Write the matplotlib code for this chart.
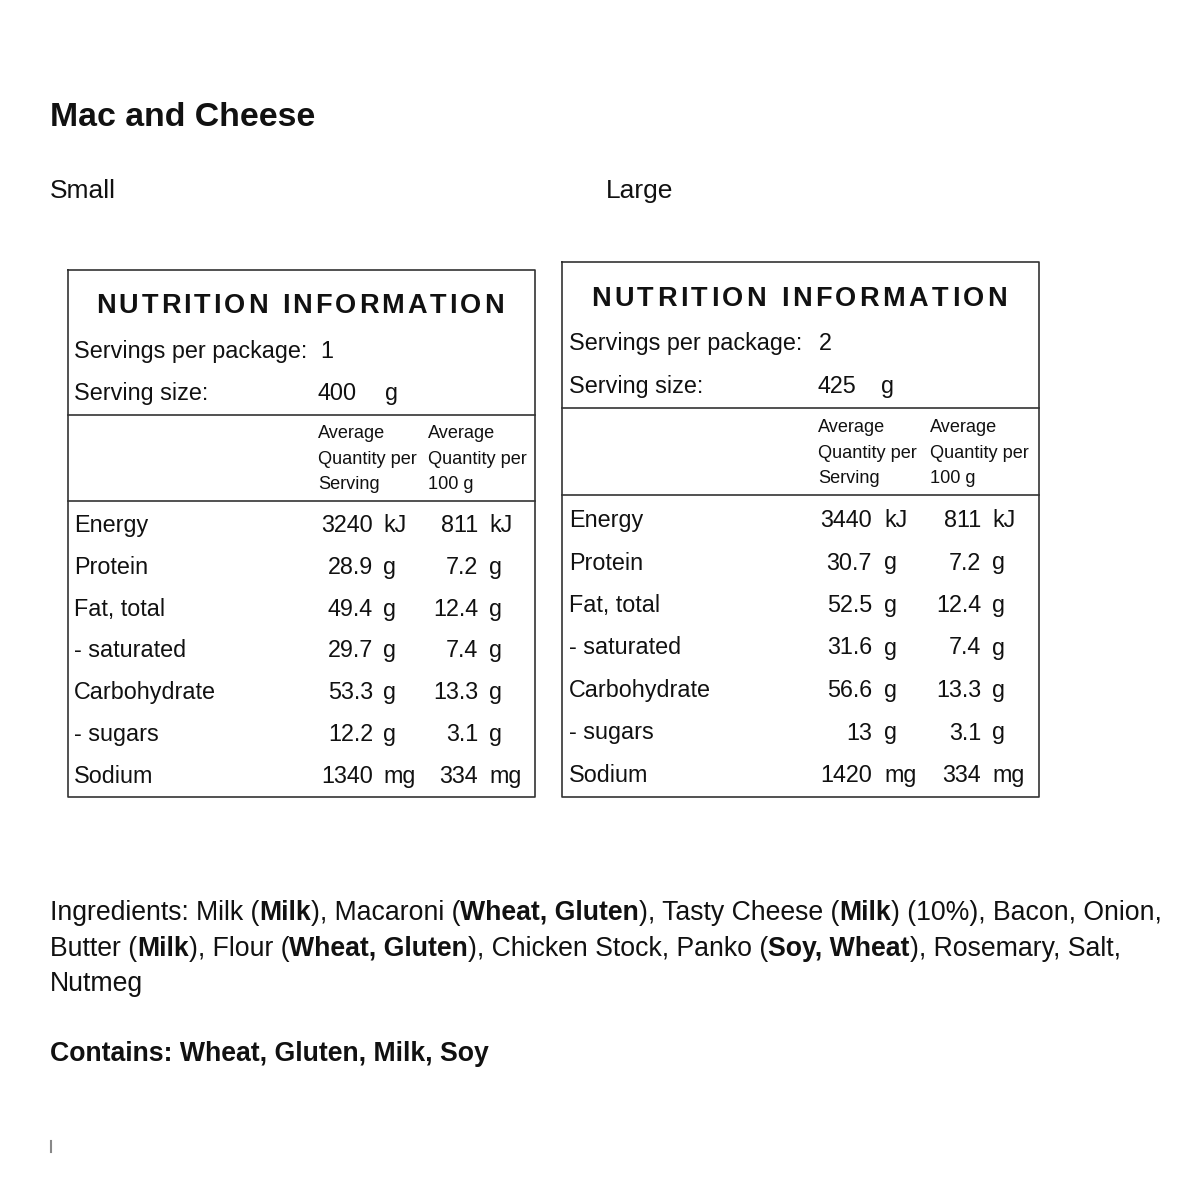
import matplotlib
matplotlib.use("Agg")
import matplotlib.pyplot as plt

plt.rcParams['font.family'] = ['Liberation Sans', 'DejaVu Sans']

# Nutrition data
nutrients = ["Energy", "Protein", "Fat, total", "- saturated", "Carbohydrate", "- sugars", "Sodium"]
units = ["kJ", "g", "g", "g", "g", "g", "mg"]
small_per_serving = [3240, 28.9, 49.4, 29.7, 53.3, 12.2, 1340]
small_per_100g = [811, 7.2, 12.4, 7.4, 13.3, 3.1, 334]
large_per_serving = [3440, 30.7, 52.5, 31.6, 56.6, 13, 1420]
large_per_100g = [811, 7.2, 12.4, 7.4, 13.3, 3.1, 334]
servings_per_package = [1, 2]
serving_size_g = [400, 425]
header_serving = ["Average", "Quantity per", "Serving"]
header_100g = ["Average", "Quantity per", "100 g"]

# (text, bold) runs for each ingredients line
ingredient_lines = [
    [("Ingredients: Milk (", False), ("Milk", True), ("), Macaroni (", False), ("Wheat, Gluten", True),
     ("), Tasty Cheese (", False), ("Milk", True), (") (10%), Bacon, Onion,", False)],
    [("Butter (", False), ("Milk", True), ("), Flour (", False), ("Wheat, Gluten", True),
     ("), Chicken Stock, Panko (", False), ("Soy, Wheat", True), ("), Rosemary, Salt,", False)],
    [("Nutmeg", False)],
]
contains_text = "Contains: Wheat, Gluten, Milk, Soy"

TXT = '#111111'
LINE = '#333333'
ROW_FS = 16.8

fig = plt.figure(figsize=(12, 12), dpi=100)
ax = fig.add_axes([0, 0, 1, 1])
ax.set_xlim(0, 1200)
ax.set_ylim(1200, 0)
ax.axis('off')
renderer = fig.canvas.get_renderer()


def width_of(s, size, bold=False):
    t = ax.text(0, 0, s, fontsize=size, fontweight='bold' if bold else 'normal')
    w = t.get_window_extent(renderer).width
    t.remove()
    return w


def advance(ch, size, bold=False):
    return width_of("H" + ch + "H", size, bold) - width_of("HH", size, bold)


def txt(x, y, s, size=ROW_FS, bold=False, ha='left'):
    ax.text(x, y, s, fontsize=size, fontweight='bold' if bold else 'normal',
            ha=ha, va='baseline', color=TXT)


def draw_runs(x, y, runs, size):
    for s, bold in runs:
        txt(x, y, s, size, bold)
        x += width_of(s, size, bold)


def tracked_title(x_left, y, s, size, target_w):
    advs = [advance(c, size, True) for c in s]
    natural = sum(advs[:-1]) + width_of(s[-1], size, True)
    extra = (target_w - natural) / (len(s) - 1)
    x = x_left
    for c, a in zip(s, advs):
        if c != ' ':
            txt(x, y, c, size, True)
        x += a + extra


def fmt(v):
    return f"{v:g}"


def draw_table(lay, spp, ss, per_serv, per_100):
    x0, y0, x1, y1 = lay['box']
    ax.plot([x0, x1, x1, x0, x0], [y0, y0, y1, y1, y0], color=LINE, lw=1.2)
    ax.plot([x0, x1], [lay['line1']] * 2, color=LINE, lw=1.2)
    ax.plot([x0, x1], [lay['line2']] * 2, color=LINE, lw=1.2)

    tracked_title(lay['title_x'], lay['title'], "NUTRITION INFORMATION", 19.5, lay['title_w'])

    lx = lay['label_x']
    txt(lx, lay['spp'], "Servings per package:")
    txt(lay['val_x'] + 2, lay['spp'], str(spp))
    txt(lx, lay['ss'], "Serving size:")
    txt(lay['val_x'], lay['ss'], str(ss))
    txt(lay['ss_unit'], lay['ss'], "g")

    for i, (a, b) in enumerate(zip(header_serving, header_100g)):
        yy = lay['hdr0'] + i * lay['hdr_step']
        txt(lay['hdr_x'][0], yy, a, 13.1)
        txt(lay['hdr_x'][1], yy, b, 13.1)

    for i, name in enumerate(nutrients):
        yy = lay['row0'] + i * lay['row_step']
        txt(lx, yy, name)
        txt(lay['num1'], yy, fmt(per_serv[i]), ha='right')
        txt(lay['unit1'], yy, units[i])
        txt(lay['num2'], yy, fmt(per_100[i]), ha='right')
        txt(lay['unit2'], yy, units[i])


small_layout = dict(box=(68, 270, 535, 797), line1=415, line2=501, title=313, title_x=96, title_w=408,
                    label_x=74, spp=358, ss=400, val_x=318, ss_unit=385,
                    hdr0=438, hdr_step=25.5, hdr_x=(318, 428),
                    row0=532, row_step=41.8, num1=373, unit1=383, num2=478, unit2=489)
large_layout = dict(box=(562, 262, 1039, 797), line1=408, line2=495, title=306, title_x=591, title_w=416,
                    label_x=569, spp=350, ss=393, val_x=817, ss_unit=881,
                    hdr0=432, hdr_step=25.5, hdr_x=(818, 930),
                    row0=527, row_step=42.5, num1=872, unit1=884, num2=981, unit2=992)

# Headings
txt(50, 126, "Mac and Cheese", 24.4, True)
txt(50, 198, "Small", 19)
txt(606, 198, "Large", 19)

draw_table(small_layout, servings_per_package[0], serving_size_g[0], small_per_serving, small_per_100g)
draw_table(large_layout, servings_per_package[1], serving_size_g[1], large_per_serving, large_per_100g)

# Ingredients
for i, runs in enumerate(ingredient_lines):
    draw_runs(50, 920 + i * 35.5, runs, 19.2)
txt(50, 1061, contains_text, 19.2, True)

# small cursor mark bottom-left
ax.plot([51, 51], [1141, 1152], color='#888888', lw=1.5)

fig.savefig("out.png", dpi=100, facecolor='white')
